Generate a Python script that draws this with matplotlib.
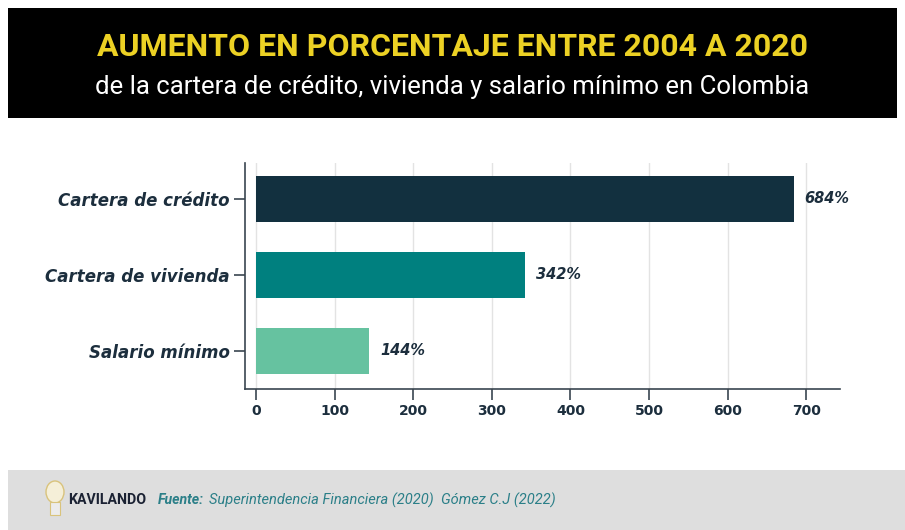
import matplotlib
matplotlib.use("Agg")
import matplotlib.pyplot as plt
from matplotlib.patches import Rectangle, Ellipse

categories = ["Cartera de crédito", "Cartera de vivienda", "Salario mínimo"]
values = [684, 342, 144]
value_labels = ["684%", "342%", "144%"]
colors = ["#12303f", "#00807f", "#66c2a0"]
xticks = [0, 100, 200, 300, 400, 500, 600, 700]

navy = "#1c2e3d"
W, H = 905, 530

fig = plt.figure(figsize=(9.05, 5.3), dpi=100)
fig.patch.set_facecolor("white")
renderer = fig.canvas.get_renderer()


def fit(t, target_px):
    bb = t.get_window_extent(renderer=renderer)
    t.set_fontsize(t.get_fontsize() * target_px / bb.width)


# banner
fig.add_artist(Rectangle((8/W, 1-118/H), 889/W, 110/H, transform=fig.transFigure,
                         facecolor="black", edgecolor="none", zorder=0))
t1 = fig.text(0.5, 1-47/H, "AUMENTO EN PORCENTAJE ENTRE 2004 A 2020", ha="center", va="center",
              color="#ecd124", fontsize=20, fontweight="bold", family="Roboto")
fit(t1, 709)
t2 = fig.text(0.5, 1-87/H, "de la cartera de crédito, vivienda y salario mínimo en Colombia",
              ha="center", va="center", color="white", fontsize=15, family="Roboto")
fit(t2, 716)

# footer
fig.add_artist(Rectangle((8/W, 0), 897/W, 60/H, transform=fig.transFigure,
                         facecolor="#dedede", edgecolor="none", zorder=0))
fig.add_artist(Ellipse((55/W, 1-492/H), 18/W, 22/H, transform=fig.transFigure,
                       facecolor="#f5efd8", edgecolor="#d9c37c", lw=1, zorder=1))
fig.add_artist(Rectangle((50/W, 1-515/H), 10/W, 13/H, transform=fig.transFigure,
                         facecolor="#ececec", edgecolor="#d9c37c", lw=0.8, zorder=1))
t3 = fig.text(68/W, 1-500/H, "KAVILANDO", ha="left", va="center", color="#1b2233",
              fontsize=10, fontweight="bold", family="Roboto")
fit(t3, 78)
t4 = fig.text(158/W, 1-500/H, "Fuente:", ha="left", va="center", color="#2b7f88",
              fontsize=10, fontweight="bold", style="italic", family="Roboto")
fit(t4, 46)
t5 = fig.text(209/W, 1-500/H, "Superintendencia Financiera (2020)  Gómez C.J (2022)", ha="left",
              va="center", color="#2b7f88", fontsize=10, style="italic", family="Roboto")
fit(t5, 344)

ax = fig.add_axes([245/W, 1-389/H, (840-245)/W, (389-163)/H])
y = list(range(len(categories)))
ax.barh(y, values, height=0.6, color=colors, zorder=3)
ax.set_ylim(2.5, -0.47)
ax.set_xlim(-14, 743)
ax.set_yticks(y)
ax.set_yticklabels(categories, fontsize=12, fontweight="bold", style="italic", color=navy)
ax.set_xticks(xticks)
ax.set_xticklabels([str(t) for t in xticks], fontsize=10, fontweight="bold", color=navy)
for yi, v, lab in zip(y, values, value_labels):
    ax.text(v + 14, yi, lab, va="center", ha="left", fontsize=10.5, fontweight="bold",
            style="italic", color=navy)
ax.grid(axis="x", color="#e3e3e3", lw=1, zorder=0)
for s in ["top", "right"]:
    ax.spines[s].set_visible(False)
for s in ["left", "bottom"]:
    ax.spines[s].set_color("#3a4550")
    ax.spines[s].set_linewidth(1.2)
ax.tick_params(axis="both", colors="#3a4550", length=8, width=1.2, pad=3)
ax.tick_params(axis="y", labelcolor=navy)
ax.tick_params(axis="x", labelcolor=navy)

fig.savefig("out.png", dpi=100)
